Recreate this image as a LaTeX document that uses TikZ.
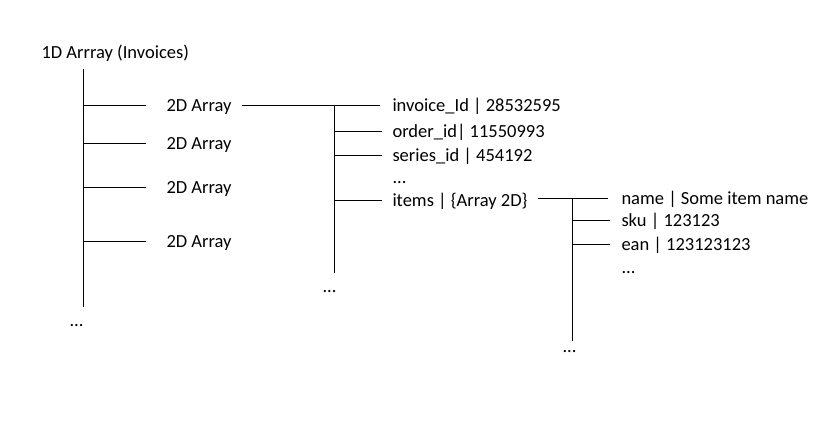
\documentclass[tikz,border=0pt]{standalone}
\usepackage{fontspec}
\setmainfont{Carlito}
\begin{document}
\begin{tikzpicture}[x=1pt,y=-1pt,line width=1pt,
  lbl/.style={anchor=west,inner sep=0pt,text height=12pt,text depth=0pt,font=\fontsize{18.5}{20}\selectfont},
  dots/.style={lbl}]
\useasboundingbox[fill=white] (0,0) rectangle (837,428);
% level 0
\node[lbl] (title) at (41,53) {1D Arrray (Invoices)};
\coordinate (v1top) at (83,69);
\coordinate (v1bot) at (83,307);
\node[lbl] (A1) at (166,105) {2D Array};
\node[lbl] (A2) at (166,143) {2D Array};
\node[lbl] (A3) at (166,187) {2D Array};
\node[lbl] (A4) at (166,241) {2D Array};
\node[dots] (d1) at (69,320) {...};
\draw (v1top) -- (v1bot);
\foreach \n in {A1,A2,A3,A4}
  \draw (v1top |- \n.west) -- ([xshift=-20pt]\n.west);
% level 1
\node[lbl] (F1) at (392,105) {invoice\_Id | 28532595};
\node[lbl] (F2) at (392,131) {order\_id| 11550993};
\node[lbl] (F3) at (392,155) {series\_id | 454192};
\node[dots] (F4) at (392,177) {...};
\node[lbl] (F5) at (392,200) {items | \{Array 2D\}};
\coordinate (v2top) at (334,105);
\coordinate (v2bot) at (334,273);
\node[dots] (d2) at (322,286) {...};
\draw ([xshift=10pt]A1.east) -- ([xshift=-12pt]F1.west);
\draw (v2top) -- (v2bot);
\foreach \n in {F2,F3,F5}
  \draw (v2top |- \n.west) -- ([xshift=-10pt]\n.west);
% level 2
\node[lbl] (G1) at (621,198) {name | Some item name};
\node[lbl] (G2) at (621,220) {sku | 123123};
\node[lbl] (G3) at (621,244) {ean | 123123123};
\node[dots] (G4) at (621,267) {...};
\coordinate (v3top) at (572,198);
\coordinate (v3bot) at (572,341);
\node[dots] (d3) at (562,346) {...};
\draw ([xshift=10pt]F5.east |- G1.west) -- ([xshift=-13pt]G1.west);
\draw (v3top) -- (v3bot);
\foreach \n in {G2,G3}
  \draw (v3top |- \n.west) -- ([xshift=-11pt]\n.west);
\end{tikzpicture}
\end{document}
